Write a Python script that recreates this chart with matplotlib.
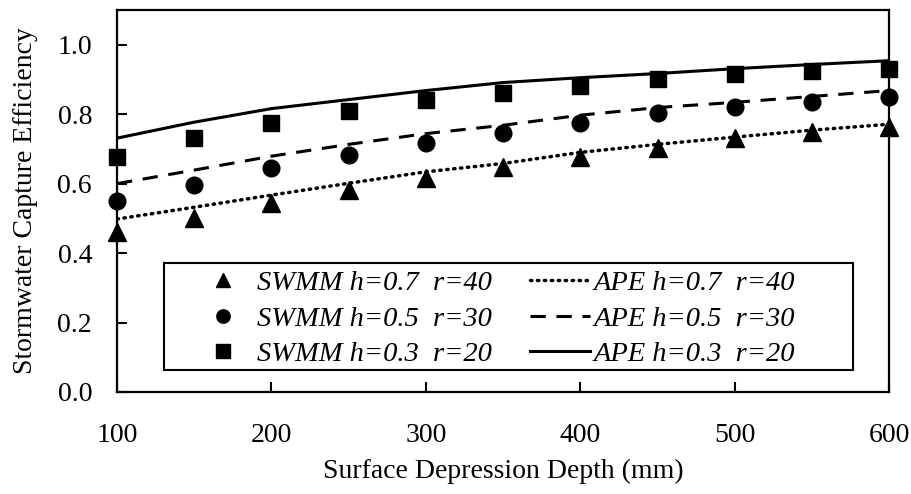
import matplotlib
matplotlib.use("Agg")
import matplotlib.pyplot as plt
from matplotlib.patches import Rectangle

plt.rcParams["font.family"] = ["Liberation Serif", "DejaVu Serif"]

# depth (mm)
depth = [100, 150, 200, 250, 300, 350, 400, 450, 500, 550, 600]

# SWMM simulated points
swmm_07 = [0.461, 0.501, 0.544, 0.582, 0.616, 0.648, 0.676, 0.702, 0.730, 0.748, 0.762]
swmm_05 = [0.550, 0.596, 0.645, 0.682, 0.716, 0.745, 0.774, 0.802, 0.820, 0.834, 0.848]
swmm_03 = [0.676, 0.730, 0.774, 0.810, 0.840, 0.862, 0.882, 0.902, 0.917, 0.925, 0.931]

# APE analytical curves
ape_07 = [0.498, 0.532, 0.567, 0.601, 0.634, 0.658, 0.690, 0.713, 0.734, 0.754, 0.771]
ape_05 = [0.600, 0.639, 0.679, 0.713, 0.744, 0.768, 0.797, 0.819, 0.834, 0.851, 0.868]
ape_03 = [0.731, 0.777, 0.816, 0.842, 0.868, 0.891, 0.905, 0.917, 0.931, 0.943, 0.954]

labels = ["SWMM h=0.7  r=40", "SWMM h=0.5  r=30", "SWMM h=0.3  r=20",
          "APE h=0.7  r=40", "APE h=0.5  r=30", "APE h=0.3  r=20"]

fig = plt.figure(figsize=(9.11, 4.94), dpi=100)
ax = fig.add_axes([0.1285, 0.2065, 0.8475, 0.7733])

ms = 12
h1, = ax.plot(depth, swmm_07, "^", color="black", ms=ms + 0.5, clip_on=False, zorder=3)
h2, = ax.plot(depth, swmm_05, "o", color="black", ms=ms, clip_on=False, zorder=3)
h3, = ax.plot(depth, swmm_03, "s", color="black", ms=ms, clip_on=False, zorder=3)
l1, = ax.plot(depth, ape_07, color="black", lw=2.5, linestyle=(0, (0.4, 1.6)),
              dash_capstyle="round")
l2, = ax.plot(depth, ape_05, color="black", lw=2.2, linestyle=(0, (5, 3.5)))
l3, = ax.plot(depth, ape_03, color="black", lw=2.2, linestyle="-")

ax.set_xlim(100, 600)
ax.set_ylim(0, 1.1)
ax.set_xticks([100, 200, 300, 400, 500, 600])
ax.set_yticks([0.0, 0.2, 0.4, 0.6, 0.8, 1.0])
ax.set_yticklabels(["0.0", "0.2", "0.4", "0.6", "0.8", "1.0"])
ax.tick_params(axis="both", direction="in", length=7, width=1.5, labelsize=20)
ax.tick_params(axis="x", pad=22)
ax.tick_params(axis="y", pad=18)
for s in ax.spines.values():
    s.set_linewidth(1.6)

ax.set_xlabel("Surface Depression Depth (mm)", fontsize=20, labelpad=8)
ax.set_ylabel("Stormwater Capture Efficiency", fontsize=20, labelpad=14)

# legend box drawn separately, the entries sit inside it
box = Rectangle((0.061, 0.0576), 0.892, 0.28, transform=ax.transAxes,
                facecolor="white", edgecolor="black", lw=1.5, zorder=4)
ax.add_patch(box)
leg = ax.legend([h1, h2, h3, l1, l2, l3], labels, ncol=2,
                loc="upper left", bbox_to_anchor=(0.0986, 0.319),
                frameon=False, borderpad=0, borderaxespad=0,
                prop={"family": "Liberation Serif", "style": "italic", "size": 20.5},
                handlelength=2.1, handletextpad=0.15, columnspacing=1.33,
                labelspacing=0.34, markerscale=0.8)
leg.set_zorder(5)

fig.savefig("out.png", dpi=100)
